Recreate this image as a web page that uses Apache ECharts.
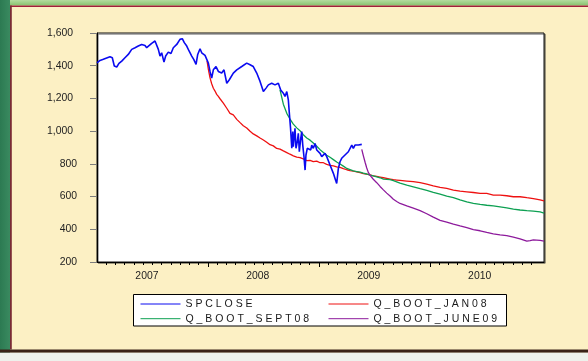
<!DOCTYPE html>
<html>
<head>
<meta charset="utf-8">
<script src="https://cdn.jsdelivr.net/npm/echarts@6/dist/echarts.min.js"></script>
<style>
  html, body { margin: 0; padding: 0; background: #fcf0c4; }
  #chart { width: 588px; height: 361px; }
</style>
</head>
<body>
<div id="chart"></div>
<script>
// S&P 500 close and three bootstrap projections, x in decimal years
const spclose = [
  [2007.000,1418],[2007.027,1432],[2007.057,1439],[2007.087,1447],[2007.117,1455],[2007.138,1449],
  [2007.156,1398],[2007.178,1392],[2007.198,1414],[2007.223,1428],[2007.252,1449],[2007.282,1469],
  [2007.313,1500],[2007.343,1510],[2007.372,1520],[2007.403,1530],[2007.433,1524],[2007.448,1510],
  [2007.463,1520],[2007.493,1537],[2007.523,1551],[2007.538,1557],[2007.553,1500],[2007.568,1459],
  [2007.583,1479],[2007.604,1422],[2007.619,1459],[2007.643,1483],[2007.667,1475],[2007.688,1510],
  [2007.719,1530],[2007.748,1561],[2007.769,1565],[2007.787,1541],[2007.809,1520],[2007.830,1490],
  [2007.854,1459],[2007.872,1439],[2007.893,1408],[2007.908,1469],[2007.929,1504],[2007.944,1479],
  [2007.959,1490],[2007.974,1463],[2007.992,1470],[2008.004,1416],[2008.019,1365],[2008.034,1324],
  [2008.049,1375],[2008.073,1395],[2008.094,1365],[2008.124,1355],[2008.145,1375],[2008.170,1293],
  [2008.193,1314],[2008.229,1355],[2008.260,1375],[2008.305,1395],[2008.350,1416],[2008.380,1406],
  [2008.409,1395],[2008.440,1355],[2008.470,1304],[2008.500,1242],[2008.524,1263],[2008.545,1283],
  [2008.575,1293],[2008.605,1283],[2008.635,1293],[2008.656,1252],[2008.680,1232],[2008.695,1212],
  [2008.711,1242],[2008.725,1191],[2008.734,1110],[2008.745,1017],[2008.756,895],[2008.765,997],
  [2008.770,905],[2008.785,1017],[2008.794,895],[2008.806,936],[2008.815,987],[2008.824,874],
  [2008.837,956],[2008.846,997],[2008.855,915],[2008.866,844],[2008.876,762],[2008.884,854],
  [2008.896,895],[2008.914,905],[2008.927,885],[2008.936,915],[2008.950,895],[2008.966,925],
  [2008.981,885],[2008.995,895],[2009.011,864],[2009.026,844],[2009.041,854],[2009.056,864],
  [2009.071,844],[2009.086,834],[2009.101,793],[2009.116,782],[2009.131,742],[2009.146,711],
  [2009.161,680],[2009.176,772],[2009.191,813],[2009.206,834],[2009.221,844],[2009.236,854],
  [2009.252,864],[2009.266,874],[2009.281,885],[2009.297,915],[2009.311,895],[2009.326,915],
  [2009.342,905],[2009.356,915],[2009.372,905],[2009.387,919]
];

const qBootJan08 = [
  [2007.992,1430],[2008.004,1377],[2008.019,1326],[2008.034,1290],[2008.049,1262],[2008.064,1245],
  [2008.079,1225],[2008.094,1212],[2008.109,1198],[2008.139,1171],[2008.170,1140],[2008.199,1109],
  [2008.229,1099],[2008.260,1072],[2008.290,1052],[2008.319,1033],[2008.350,1019],[2008.380,999],
  [2008.409,983],[2008.440,971],[2008.470,958],[2008.500,946],[2008.530,932],[2008.560,917],
  [2008.590,910],[2008.620,894],[2008.650,890],[2008.680,879],[2008.711,869],[2008.740,859],
  [2008.770,849],[2008.801,841],[2008.830,838],[2008.860,830],[2008.891,820],[2008.921,821],
  [2008.950,814],[2008.981,817],[2009.011,807],[2009.041,807],[2009.071,797],[2009.101,791],
  [2009.131,787],[2009.161,782],[2009.191,778],[2009.221,771],[2009.252,764],[2009.281,759],
  [2009.311,755],[2009.342,751],[2009.372,746],[2009.401,740],[2009.432,737],[2009.462,732],
  [2009.491,727],[2009.522,723],[2009.552,719],[2009.582,715],[2009.612,711],[2009.642,707],
  [2009.672,703],[2009.702,701],[2009.732,699],[2009.793,695],[2009.852,691],[2009.913,685],
  [2009.973,676],[2010.032,666],[2010.093,656],[2010.153,650],[2010.213,640],[2010.273,633],
  [2010.334,629],[2010.393,625],[2010.454,619],[2010.514,619],[2010.573,609],[2010.634,609],
  [2010.694,605],[2010.754,599],[2010.814,599],[2010.875,593],[2010.934,588],[2010.995,580],
  [2011.030,574]
];

const qBootSept08 = [
  [2008.650,1252],[2008.680,1165],[2008.711,1109],[2008.740,1074],[2008.770,1043],[2008.801,1020],
  [2008.830,1003],[2008.860,978],[2008.891,958],[2008.921,945],[2008.950,928],[2008.981,908],
  [2009.011,887],[2009.041,870],[2009.071,853],[2009.101,840],[2009.131,826],[2009.161,811],
  [2009.191,799],[2009.221,786],[2009.252,772],[2009.281,765],[2009.311,757],[2009.342,753],
  [2009.372,749],[2009.401,743],[2009.432,738],[2009.462,731],[2009.491,727],[2009.522,721],
  [2009.552,715],[2009.582,707],[2009.612,705],[2009.642,703],[2009.672,697],[2009.702,690],
  [2009.732,682],[2009.793,670],[2009.852,660],[2009.913,648],[2009.973,638],[2010.032,626],
  [2010.093,615],[2010.153,603],[2010.213,594],[2010.273,580],[2010.334,567],[2010.393,558],
  [2010.454,552],[2010.514,547],[2010.573,543],[2010.634,537],[2010.694,531],[2010.754,523],
  [2010.814,518],[2010.875,514],[2010.934,511],[2010.995,506],[2011.030,499]
];

const qBootJune09 = [
  [2009.387,888],[2009.401,850],[2009.417,810],[2009.432,775],[2009.446,748],[2009.462,730],
  [2009.491,706],[2009.522,685],[2009.552,662],[2009.582,641],[2009.612,621],[2009.642,603],
  [2009.672,584],[2009.702,570],[2009.732,558],[2009.793,543],[2009.852,529],[2009.913,514],
  [2009.973,495],[2010.032,474],[2010.093,455],[2010.153,444],[2010.213,432],[2010.273,421],
  [2010.334,410],[2010.393,398],[2010.454,391],[2010.514,381],[2010.573,372],[2010.634,366],
  [2010.694,361],[2010.754,352],[2010.814,342],[2010.875,327],[2010.905,331],[2010.934,335],
  [2010.995,332],[2011.030,328]
];

const seriesNames = ['SPCLOSE', 'Q_BOOT_JAN08', 'Q_BOOT_SEPT08', 'Q_BOOT_JUNE09'];
const yearTicks = [2008, 2009, 2010];
const yearLabelPos = [2007.45, 2008.45, 2009.45, 2010.45];
const monthTicks = [];
for (let y = 2007; y < 2011; y++) {
  for (let m = 1; m < 12; m++) monthTicks.push(y + m / 12);
}

const FONT = 'Liberation Sans, Arial, sans-serif';
const X_MIN = 2007, X_MAX = 2011.03;
const spaced = name => name.split('').join(' ');

const legendCommon = {
  orient: 'vertical', top: 298.5, padding: 0,
  itemWidth: 40, itemHeight: 10, itemGap: 3.7, selectedMode: false,
  lineStyle: { width: 1 },
  itemStyle: { opacity: 0 },          // line-only keys, no marker dot
  formatter: spaced,
  textStyle: { fontFamily: FONT, fontSize: 10.5, color: '#1a1a1a', lineHeight: 11 }
};

const chart = echarts.init(document.getElementById('chart'), null, { renderer: 'canvas' });

chart.setOption({
  animation: false,
  backgroundColor: '#fcf0c4',
  graphic: [
    // window frame around the panel
    { type: 'rect', shape: { x: 0, y: 0, width: 588, height: 5.5 },
      style: { fill: new echarts.graphic.LinearGradient(0, 0, 0, 1, [
        { offset: 0, color: '#b4dca0' }, { offset: 1, color: '#86c26e' }]) }, silent: true },
    { type: 'rect', shape: { x: 0, y: 5.5, width: 588, height: 1.5 }, style: { fill: '#a0203a' }, silent: true },
    { type: 'rect', shape: { x: 0, y: 0, width: 10, height: 361 },
      style: { fill: new echarts.graphic.LinearGradient(0, 0, 1, 0, [
        { offset: 0, color: '#2c7a52' }, { offset: 1, color: '#3a8a60' }]) }, silent: true },
    { type: 'rect', shape: { x: 10, y: 5.5, width: 1.8, height: 344 }, style: { fill: '#7a2c36' }, silent: true },
    { type: 'rect', shape: { x: 0, y: 349.5, width: 588, height: 3.2 }, style: { fill: '#3a2218' }, silent: true },
    { type: 'rect', shape: { x: 0, y: 352.7, width: 588, height: 8.3 }, style: { fill: '#eef1ec' }, silent: true },
    // legend frame
    { type: 'rect', shape: { x: 133.5, y: 294.5, width: 373, height: 31.5 },
      style: { fill: '#ffffff', stroke: '#000000', lineWidth: 1 }, silent: true }
  ],
  grid: {
    left: 97, top: 33, width: 447, height: 229,
    show: true, backgroundColor: '#ffffff', borderColor: '#111111', borderWidth: 1,
    shadowColor: 'rgba(40,40,40,0.55)', shadowOffsetX: 1.2, shadowOffsetY: 1.2, shadowBlur: 0
  },
  legend: [
    Object.assign({ data: [seriesNames[0], seriesNames[2]], left: 140 }, legendCommon),
    Object.assign({ data: [seriesNames[1], seriesNames[3]], left: 328 }, legendCommon)
  ],
  xAxis: [
    {
      type: 'value', min: X_MIN, max: X_MAX, position: 'bottom',
      axisLine: { show: true, lineStyle: { color: '#000', width: 1 } },
      axisTick: { show: true, customValues: yearTicks, length: 5, lineStyle: { color: '#000', width: 1 } },
      axisLabel: {
        show: true, customValues: yearLabelPos, margin: 9,
        formatter: v => String(Math.floor(v)),
        fontFamily: FONT, fontSize: 10.4, color: '#222'
      },
      splitLine: { show: false }
    },
    {
      type: 'value', min: X_MIN, max: X_MAX, position: 'bottom',
      axisLine: { show: false },
      axisTick: { show: true, customValues: monthTicks, length: 3, lineStyle: { color: '#000', width: 1 } },
      axisLabel: { show: false },
      splitLine: { show: false }
    }
  ],
  yAxis: {
    type: 'value', min: 200, max: 1600, interval: 200,
    axisLine: { show: true, lineStyle: { color: '#000', width: 1 } },
    axisTick: { show: true, length: 7, lineStyle: { color: '#7d7d7d', width: 1 } },
    axisLabel: {
      margin: 20, fontFamily: FONT, fontSize: 10.4, color: '#222',
      formatter: v => v >= 1000 ? '{w|' + v.toLocaleString('en-US') + '}' : '{n|' + v + '}',
      rich: {
        w: { fontFamily: FONT, fontSize: 10.4, color: '#222', padding: [0, 4, 0, 0] },
        n: { fontFamily: FONT, fontSize: 10.4, color: '#222' }
      }
    },
    splitLine: { show: false }
  },
  series: [
    { name: seriesNames[0], type: 'line', data: spclose, symbol: 'none', z: 5,
      lineStyle: { color: '#0a0af0', width: 1.6 }, itemStyle: { color: '#0a0af0' } },
    { name: seriesNames[1], type: 'line', data: qBootJan08, symbol: 'none', z: 2,
      lineStyle: { color: '#ee1111', width: 1.3 }, itemStyle: { color: '#ee1111' } },
    { name: seriesNames[2], type: 'line', data: qBootSept08, symbol: 'none', z: 3,
      lineStyle: { color: '#0da052', width: 1.3 }, itemStyle: { color: '#0da052' } },
    { name: seriesNames[3], type: 'line', data: qBootJune09, symbol: 'none', z: 4,
      lineStyle: { color: '#8d1a9c', width: 1.3 }, itemStyle: { color: '#8d1a9c' } }
  ]
});
</script>
</body>
</html>
